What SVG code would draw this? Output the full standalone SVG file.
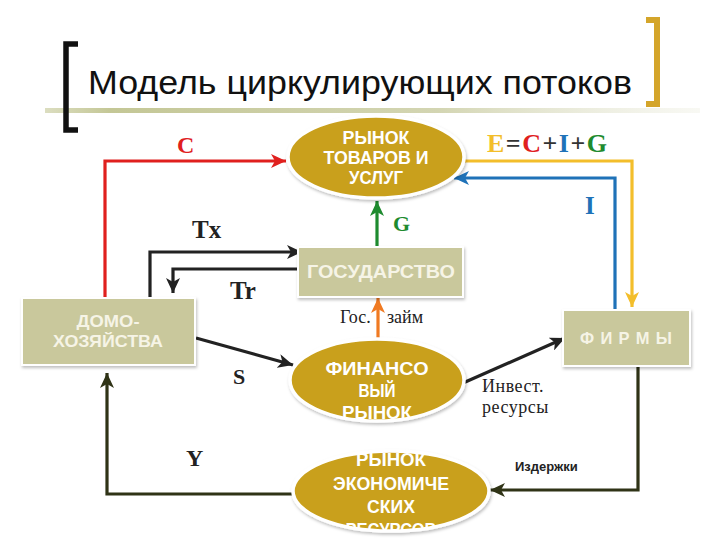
<svg xmlns="http://www.w3.org/2000/svg" width="720" height="540" viewBox="0 0 720 540">
<style>
.box{fill:#C9C89C;stroke:#fff;stroke-width:2;filter:url(#sh)}
.ell{fill:#C9A01B;stroke:#fff;stroke-width:3.5;filter:url(#sh)}
.bt{font-family:"Liberation Sans",Arial,sans-serif;font-weight:bold;fill:#F6F4E6;text-anchor:middle}
.et{font-family:"Liberation Sans",Arial,sans-serif;font-weight:bold;font-size:17.5px;fill:#fff;text-anchor:middle}
.lbl{font-family:"Liberation Serif","Times New Roman",serif;font-weight:bold}
.sl{font-family:"Liberation Serif","Times New Roman",serif;font-size:18px;fill:#222}
.ln{fill:none;stroke-width:3.2;stroke-linejoin:miter}
</style>
<defs>
<filter id="sh" x="-10%" y="-10%" width="125%" height="130%">
<feDropShadow dx="1" dy="2" stdDeviation="1.5" flood-color="#000" flood-opacity="0.25"/>
</filter>
<linearGradient id="ul" x1="0" x2="1" y1="0" y2="0">
<stop offset="0" stop-color="#C4C796" stop-opacity="0.6"/>
<stop offset="0.1" stop-color="#C4C796"/>
<stop offset="0.6" stop-color="#D3D5B2"/>
<stop offset="1" stop-color="#E8E9D8" stop-opacity="0.3"/>
</linearGradient>
<marker id="aR" markerUnits="userSpaceOnUse" markerWidth="16" markerHeight="14" refX="15" refY="7" orient="auto"><path d="M0,0 L15,7 L0,14 L4,7 Z" fill="#E0201E"/></marker>
<marker id="aK" markerUnits="userSpaceOnUse" markerWidth="16" markerHeight="14" refX="15" refY="7" orient="auto"><path d="M0,0 L15,7 L0,14 L4,7 Z" fill="#222"/></marker>
<marker id="aG" markerUnits="userSpaceOnUse" markerWidth="16" markerHeight="14" refX="15" refY="7" orient="auto"><path d="M0,0 L15,7 L0,14 L4,7 Z" fill="#1E8B2F"/></marker>
<marker id="aO" markerUnits="userSpaceOnUse" markerWidth="16" markerHeight="14" refX="15" refY="7" orient="auto"><path d="M0,0 L15,7 L0,14 L4,7 Z" fill="#F07A22"/></marker>
<marker id="aY" markerUnits="userSpaceOnUse" markerWidth="16" markerHeight="14" refX="15" refY="7" orient="auto"><path d="M0,0 L15,7 L0,14 L4,7 Z" fill="#F3BE2B"/></marker>
<marker id="aB" markerUnits="userSpaceOnUse" markerWidth="16" markerHeight="14" refX="15" refY="7" orient="auto"><path d="M0,0 L15,7 L0,14 L4,7 Z" fill="#1F72B8"/></marker>
<marker id="aD" markerUnits="userSpaceOnUse" markerWidth="16" markerHeight="14" refX="15" refY="7" orient="auto"><path d="M0,0 L15,7 L0,14 L4,7 Z" fill="#2F3316"/></marker>
<clipPath id="cF"><ellipse cx="377" cy="380" rx="87" ry="41"/></clipPath>
<clipPath id="cE"><ellipse cx="391" cy="491" rx="98" ry="40"/></clipPath>
</defs>
<rect width="720" height="540" fill="#fff"/>

<g id="title">
<rect x="45" y="108" width="655" height="5" fill="url(#ul)"/>
<path d="M78,44 H66 V130 H78" fill="none" stroke="#111" stroke-width="5.5"/>
<path d="M646,20 H657 V104 H646" fill="none" stroke="#D4A52A" stroke-width="6"/>
<text x="88" y="94" font-family="'Liberation Sans',Arial,sans-serif" font-size="33" fill="#111" textLength="544" lengthAdjust="spacingAndGlyphs">Модель циркулирующих потоков</text>
</g>

<g id="connectors">
<path class="ln" d="M105,298 V161 H286" stroke="#E0201E" marker-end="url(#aR)"/>
<path class="ln" d="M150,298 V252 H302" stroke="#222" marker-end="url(#aK)"/>
<path class="ln" d="M298,269 H173 V293" stroke="#222" marker-end="url(#aK)"/>
<path class="ln" d="M377,247 V201" stroke="#1E8B2F" marker-end="url(#aG)"/>
<path class="ln" d="M378,338 V298" stroke="#F07A22" marker-end="url(#aO)"/>
<path class="ln" d="M196,338 L293,365" stroke="#222" marker-end="url(#aK)"/>
<path class="ln" d="M463,383 L565,338" stroke="#222" marker-end="url(#aK)"/>
<path class="ln" d="M465,161 H632 V307" stroke="#F3BE2B" marker-end="url(#aY)"/>
<path class="ln" d="M615,310 V178 H454" stroke="#1F72B8" marker-end="url(#aB)"/>
<path class="ln" d="M638,367 V490 H490" stroke="#2F3316" marker-end="url(#aD)"/>
<path class="ln" d="M293,494 H107 V373" stroke="#2F3316" marker-end="url(#aD)"/>
</g>

<g id="labels">
<text class="lbl" x="177" y="153" font-size="24" fill="#E0201E">C</text>
<text class="lbl" x="192" y="238" font-size="25" fill="#222">Tx</text>
<text class="lbl" x="230" y="299" font-size="25" fill="#222">Tr</text>
<text class="lbl" x="393" y="231" font-size="22" fill="#1E8B2F">G</text>
<text class="lbl" x="585" y="214" font-size="25" fill="#1F72B8">I</text>
<text class="lbl" x="233" y="384" font-size="22" fill="#222">S</text>
<text class="lbl" x="186" y="466" font-size="24" fill="#222">Y</text>
<text class="lbl" x="487" y="152" font-size="26" letter-spacing="1.5"><tspan fill="#F3BE2B">E</tspan><tspan fill="#333">=</tspan><tspan fill="#E0201E">C</tspan><tspan fill="#333">+</tspan><tspan fill="#1F72B8">I</tspan><tspan fill="#333">+</tspan><tspan fill="#1E8B2F">G</tspan></text>
<text class="sl" x="340" y="323">Гос.</text>
<text class="sl" x="387" y="323">займ</text>
<text class="sl" x="482" y="392" letter-spacing="0.5">Инвест.</text>
<text class="sl" x="482" y="413" letter-spacing="0.5">ресурсы</text>
<text x="515" y="471" font-family="'Liberation Sans',Arial,sans-serif" font-weight="bold" font-size="13" fill="#222">Издержки</text>
</g>

<g id="goods">
<ellipse class="ell" cx="376" cy="157" rx="88" ry="41"/>
<text class="et" x="376" y="144" textLength="67" lengthAdjust="spacingAndGlyphs">РЫНОК</text>
<text class="et" x="376" y="164" textLength="105" lengthAdjust="spacingAndGlyphs">ТОВАРОВ И</text>
<text class="et" x="376" y="184" textLength="54" lengthAdjust="spacingAndGlyphs">УСЛУГ</text>
</g>

<g id="state">
<rect class="box" x="298" y="247" width="165" height="50"/>
<text class="bt" x="381" y="278" font-size="18" textLength="148" lengthAdjust="spacingAndGlyphs">ГОСУДАРСТВО</text>
</g>

<g id="households">
<rect class="box" x="22" y="298" width="173" height="67"/>
<text class="bt" x="108" y="327" font-size="17" textLength="63" lengthAdjust="spacingAndGlyphs">ДОМО-</text>
<text class="bt" x="108" y="347" font-size="17" textLength="110" lengthAdjust="spacingAndGlyphs">ХОЗЯЙСТВА</text>
</g>

<g id="firms">
<rect class="box" x="563" y="310" width="127" height="56"/>
<text class="bt" x="626" y="344" font-size="16.5" textLength="92" lengthAdjust="spacing">Ф И Р М Ы</text>
</g>

<g id="finance">
<ellipse class="ell" cx="377" cy="380" rx="87" ry="41"/>
<g clip-path="url(#cF)">
<text class="et" x="377" y="375" textLength="103" lengthAdjust="spacingAndGlyphs">ФИНАНСО</text>
<text class="et" x="377" y="397" textLength="37" lengthAdjust="spacingAndGlyphs">ВЫЙ</text>
<text class="et" x="377" y="419" textLength="70" lengthAdjust="spacingAndGlyphs">РЫНОК</text>
</g>
</g>

<g id="resources">
<ellipse class="ell" cx="391" cy="491" rx="98" ry="40"/>
<g clip-path="url(#cE)">
<text class="et" x="391" y="466" textLength="70" lengthAdjust="spacingAndGlyphs">РЫНОК</text>
<text class="et" x="391" y="490" textLength="116" lengthAdjust="spacingAndGlyphs">ЭКОНОМИЧЕ</text>
<text class="et" x="391" y="513" textLength="48" lengthAdjust="spacingAndGlyphs">СКИХ</text>
<text class="et" x="391" y="536" textLength="91" lengthAdjust="spacingAndGlyphs">РЕСУРСОВ</text>
</g>
</g>
</svg>
